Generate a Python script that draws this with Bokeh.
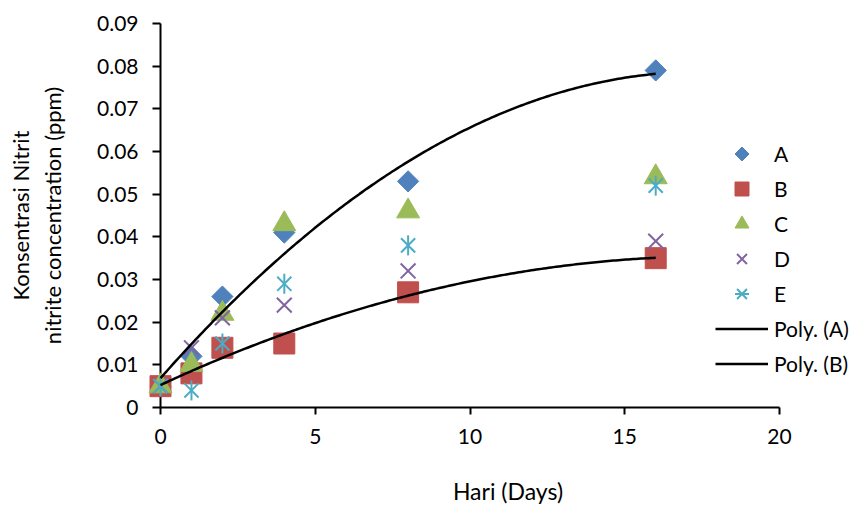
import numpy as np
from bokeh.plotting import figure
from bokeh.models import Range1d, Legend, LegendItem, FixedTicker
from bokeh.embed import file_html
from bokeh.resources import INLINE

# ---- data ----
days = [0, 1, 2, 4, 8, 16]
A = [0.005, 0.012, 0.026, 0.041, 0.053, 0.079]
B = [0.005, 0.008, 0.014, 0.015, 0.027, 0.035]
C = [0.005, 0.010, 0.022, 0.043, 0.046, 0.054]
D = [0.005, 0.014, 0.021, 0.024, 0.032, 0.039]
E = [0.005, 0.004, 0.015, 0.029, 0.038, 0.052]

x_ticks = [0, 5, 10, 15, 20]
y_ticks = [0, 0.01, 0.02, 0.03, 0.04, 0.05, 0.06, 0.07, 0.08, 0.09]
y_tick_labels = ["0", "0.01", "0.02", "0.03", "0.04", "0.05", "0.06", "0.07", "0.08", "0.09"]

FONT = "Lato"
BLACK = "#000000"
COL = {"A": "#4F81BD", "B": "#C0504D", "C": "#9BBB59", "D": "#8064A2", "E": "#4BACC6"}

p = figure(width=855, height=507, output_backend="svg", toolbar_location=None,
           x_range=Range1d(0, 22.455), y_range=Range1d(0, 0.09),
           min_border_left=160, min_border_top=23, min_border_right=0,
           min_border_bottom=97)
p.outline_line_color = None
p.xgrid.visible = False
p.ygrid.visible = False
p.background_fill_color = "white"
p.border_fill_color = "white"

# axes
for ax in (p.xaxis[0], p.yaxis[0]):
    ax.axis_line_color = BLACK
    ax.axis_line_width = 2
    ax.major_tick_line_color = BLACK
    ax.major_tick_line_width = 2
    ax.minor_tick_line_color = None
    ax.major_tick_in = 0
    ax.major_label_text_font = FONT
    ax.major_label_text_font_size = "21px"
    ax.major_label_text_color = BLACK
    ax.axis_label_text_font = FONT
    ax.axis_label_text_font_style = "normal"
    ax.axis_label_text_color = BLACK

p.xaxis.ticker = FixedTicker(ticks=x_ticks)
p.xaxis.bounds = (0, 20)
p.xaxis.major_tick_out = 7
p.xaxis.major_label_standoff = 14
p.xaxis.axis_label = "Hari (Days)"
p.xaxis.axis_label_text_font_size = "23px"
p.xaxis.axis_label_standoff = 30

p.yaxis.ticker = FixedTicker(ticks=y_ticks)
p.yaxis.major_label_overrides = {t: s for t, s in zip(y_ticks, y_tick_labels)}
p.yaxis.major_tick_out = 8
p.yaxis.major_label_standoff = 14
p.yaxis.axis_label = "Konsentrasi Nitrit\nnitrite concentration (ppm)"
p.yaxis.axis_label_text_font_size = "22px"
p.yaxis.axis_label_standoff = 28

# markers
rA = p.scatter(days, A, marker="square", angle=np.pi / 4, size=15,
               fill_color=COL["A"], line_color=COL["A"], level="overlay")
# legend-only twin of series A drawn as a 4-gon (diamond) so the key shows a diamond
try:
    rA_key = p.ngon(days, A, radius=8, radius_units="screen", n=4,
                    fill_color=COL["A"], line_color=COL["A"], visible=False)
except Exception:
    rA_key = p.scatter(days, A, marker="diamond", size=15,
                       fill_color=COL["A"], line_color=COL["A"], visible=False)
rB = p.scatter(days, B, marker="square", size=21,
               fill_color=COL["B"], line_color=COL["B"], level="overlay")
rC = p.scatter(days, C, marker="triangle", size=23,
               fill_color=COL["C"], line_color=COL["C"], level="overlay")
rD = p.scatter(days, D, marker="x", size=21, line_width=2,
               line_color=COL["D"], level="overlay")
rE1 = p.scatter(days, E, marker="x", size=20, line_width=2,
                line_color=COL["E"], level="overlay")
rE2 = p.scatter(days, E, marker="dash", angle=np.pi / 2, size=20, line_width=2,
                line_color=COL["E"], level="overlay")

# polynomial (order 2) trendlines fitted to series A and B
xs = np.linspace(days[0], days[-1], 200)
fitA = np.polyval(np.polyfit(days, A, 2), xs)
fitB = np.polyval(np.polyfit(days, B, 2), xs)
rPA = p.line(xs, fitA, line_color=BLACK, line_width=2.5, level="overlay")
rPB = p.line(xs, fitB, line_color=BLACK, line_width=2.5, level="overlay")

legend = Legend(items=[
    LegendItem(label="A", renderers=[rA_key]),
    LegendItem(label="B", renderers=[rB]),
    LegendItem(label="C", renderers=[rC]),
    LegendItem(label="D", renderers=[rD]),
    LegendItem(label="E", renderers=[rE1, rE2]),
    LegendItem(label="Poly. (A)", renderers=[rPA]),
    LegendItem(label="Poly. (B)", renderers=[rPB]),
], location=(555, 26))
legend.glyph_width = 53
legend.glyph_height = 35
legend.label_height = 35
legend.spacing = 0
legend.padding = 0
legend.margin = 0
legend.label_standoff = 6
legend.label_text_font = FONT
legend.label_text_font_size = "21px"
legend.label_text_color = BLACK
legend.background_fill_alpha = 0
legend.border_line_alpha = 0
legend.inactive_fill_alpha = 0
p.add_layout(legend, "center")

open("out.html", "w").write(file_html(p, INLINE))
